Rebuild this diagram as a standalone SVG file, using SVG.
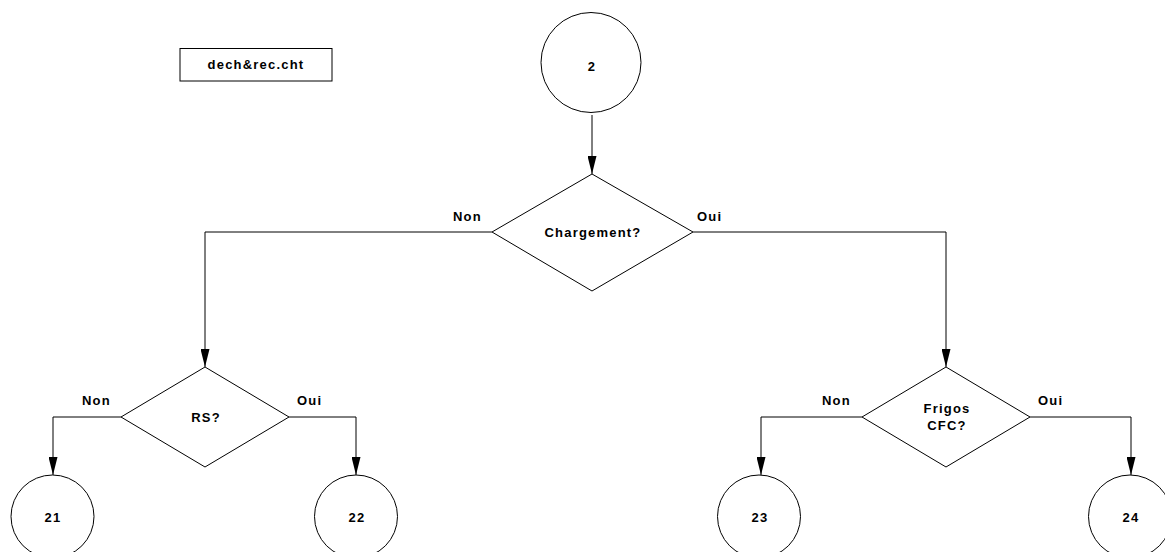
<svg xmlns="http://www.w3.org/2000/svg" width="1165" height="552" viewBox="0 0 1165 552">
<style>
.s{fill:#fff;stroke:#000;stroke-width:1}
.c{fill:none;stroke:#000;stroke-width:1}
text{font-family:"Liberation Sans",Arial,sans-serif;font-weight:bold;font-size:13px;fill:#000;letter-spacing:1.2px}
.m{text-anchor:middle}
</style>
<defs>
<marker id="a" markerWidth="18" markerHeight="9" refX="18" refY="4.5" orient="auto" markerUnits="userSpaceOnUse">
<path d="M0,0 L18,4.5 L0,9 Z" fill="#000"/>
</marker>
</defs>
<rect width="1165" height="552" fill="#fff"/>
<g id="connectors">
<path class="c" d="M592,115 V174" marker-end="url(#a)"/>
<path class="c" d="M492,232 H205 V367" marker-end="url(#a)"/>
<path class="c" d="M693,232 H946 V367" marker-end="url(#a)"/>
<path class="c" d="M121,417 H53 V475" marker-end="url(#a)"/>
<path class="c" d="M289,417 H356 V475" marker-end="url(#a)"/>
<path class="c" d="M862,417 H761 V475" marker-end="url(#a)"/>
<path class="c" d="M1030,417 H1131 V475" marker-end="url(#a)"/>
<text x="453" y="221">Non</text>
<text x="697" y="221">Oui</text>
<text x="82" y="405">Non</text>
<text x="297" y="405">Oui</text>
<text x="822" y="405">Non</text>
<text x="1038" y="405">Oui</text>
</g>
<g id="title">
<rect class="s" x="180" y="48.5" width="152" height="32.5"/>
<text class="m" x="256" y="68.5">dech&amp;rec.cht</text>
</g>
<g id="n2">
<circle class="s" cx="591" cy="62.5" r="50"/>
<text class="m" x="592" y="71">2</text>
</g>
<g id="chargement">
<polygon class="s" points="592,174 693,232 592,291 492,232"/>
<text class="m" x="593" y="237">Chargement?</text>
</g>
<g id="rs">
<polygon class="s" points="205,367 289,417 205,467 121,417"/>
<text class="m" x="206" y="421.5">RS?</text>
</g>
<g id="frigos">
<polygon class="s" points="946,367 1030,417 946,467 862,417"/>
<text class="m" x="947" y="413">Frigos</text>
<text class="m" x="947" y="430">CFC?</text>
</g>
<g id="n21">
<circle class="s" cx="52.5" cy="516.5" r="41.5"/>
<text class="m" x="53" y="522">21</text>
</g>
<g id="n22">
<circle class="s" cx="356" cy="516.5" r="41.5"/>
<text class="m" x="357" y="522">22</text>
</g>
<g id="n23">
<circle class="s" cx="759" cy="516.5" r="41.5"/>
<text class="m" x="760" y="522">23</text>
</g>
<g id="n24">
<circle class="s" cx="1130" cy="516.5" r="41.5"/>
<text class="m" x="1131" y="522">24</text>
</g>
</svg>
